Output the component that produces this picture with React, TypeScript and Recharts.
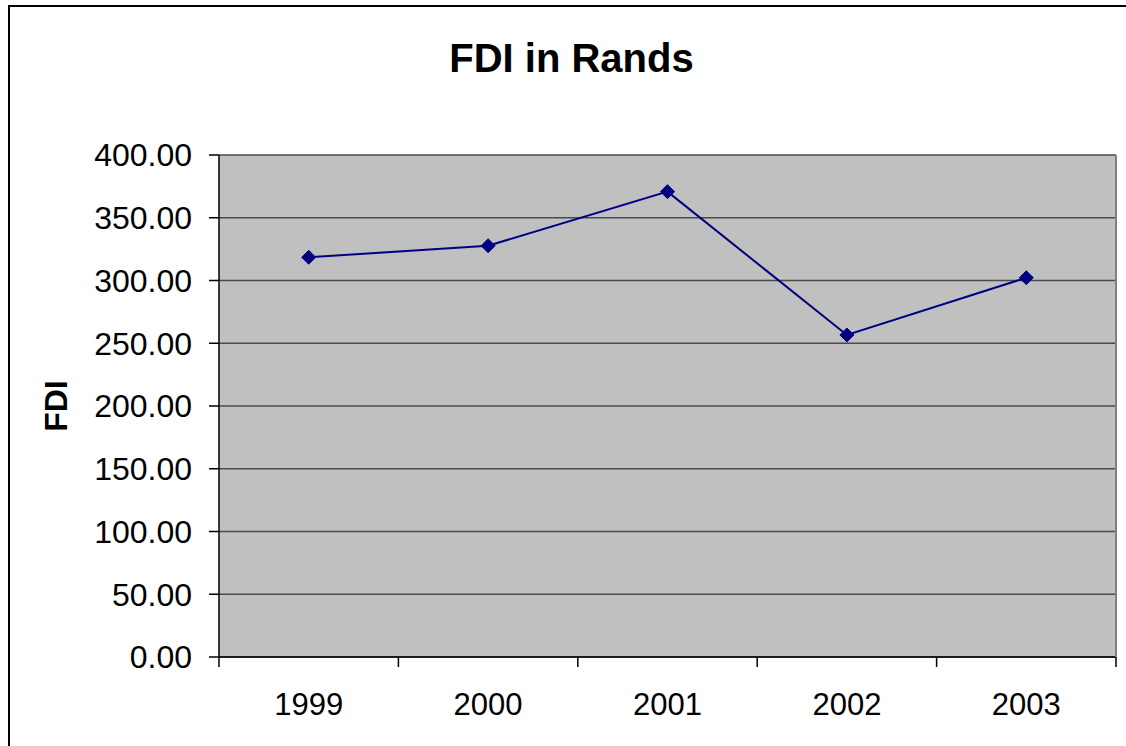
import { LineChart, Line, XAxis, YAxis, CartesianGrid } from 'recharts';

const years = ['1999', '2000', '2001', '2002', '2003'];
const fdiValues = [318.5, 327.7, 370.8, 256.6, 302.2];
const yTicks = [0, 50, 100, 150, 200, 250, 300, 350, 400];

const chartData = years.map((year, i) => ({ year, fdi: fdiValues[i] }));

const FONT = '"Liberation Sans", Arial, sans-serif';

function YearTick(props: any) {
  const { x, y, payload, index, visibleTicksCount } = props;
  const off = payload?.offset ?? 89.7;
  const isLast = index === visibleTicksCount - 1;
  return (
    <g>
      <line x1={x - off} y1={y - 10} x2={x - off} y2={y} stroke="#000" strokeWidth={1.5} />
      {isLast && <line x1={x + off} y1={y - 10} x2={x + off} y2={y} stroke="#000" strokeWidth={1.5} />}
      <text x={x} y={y + 48} textAnchor="middle" fontSize={31} fill="#000" fontFamily={FONT}>
        {payload.value}
      </text>
    </g>
  );
}

function Diamond(props: any) {
  const { cx, cy } = props;
  if (cx == null || cy == null) return null;
  const r = 7;
  return (
    <polygon
      points={`${cx},${cy - r} ${cx + r},${cy} ${cx},${cy + r} ${cx - r},${cy}`}
      fill="#000080"
      stroke="#000080"
    />
  );
}

export default function App() {
  return (
    <div style={{ position: 'fixed', left: 0, top: 0, width: 1126, height: 746, overflow: 'hidden', background: '#fff', fontFamily: FONT }}>
      <div style={{ position: 'absolute', left: 8, top: 5, width: 1140, height: 760, border: '2px solid #000' }} />
      <div style={{ position: 'absolute', left: 0, top: 38, width: 1143, textAlign: 'center', fontSize: 40, lineHeight: '40px', fontWeight: 'bold', color: '#000' }}>
        FDI in Rands
      </div>
      <div style={{ position: 'absolute', left: 0, top: 0 }}>
        <LineChart width={1126} height={746} data={chartData} margin={{ top: 155, right: 0, bottom: 0, left: 0 }}>
          <CartesianGrid vertical={false} fill="#C0C0C0" stroke="#4a4a4a" strokeWidth={1.5} />
          <XAxis
            dataKey="year"
            scale="band"
            interval={0}
            height={89}
            tickSize={10}
            tickMargin={0}
            tickLine={{ stroke: 'transparent' }}
            axisLine={{ stroke: '#000', strokeWidth: 1.5 }}
            tick={<YearTick />}
          />
          <YAxis
            domain={[0, 400]}
            ticks={yTicks}
            width={219}
            tickSize={10}
            tickMargin={17}
            tickFormatter={(v: number) => v.toFixed(2)}
            tick={{ fontSize: 32, fill: '#000', fontFamily: FONT }}
            tickLine={{ stroke: '#000', strokeWidth: 1.5 }}
            axisLine={{ stroke: '#000', strokeWidth: 1.5 }}
            label={{
              value: 'FDI',
              angle: -90,
              position: 'insideLeft',
              offset: 56,
              style: { textAnchor: 'middle', fontSize: 32, fontWeight: 'bold', fill: '#000', fontFamily: FONT },
            }}
          />
          <YAxis
            yAxisId="right"
            orientation="right"
            domain={[0, 400]}
            width={10}
            tick={false}
            tickLine={false}
            axisLine={{ stroke: '#808080', strokeWidth: 2 }}
          />
          <Line
            type="linear"
            dataKey="fdi"
            stroke="#000080"
            strokeWidth={2}
            dot={<Diamond />}
            activeDot={false}
            isAnimationActive={false}
          />
        </LineChart>
      </div>
    </div>
  );
}
